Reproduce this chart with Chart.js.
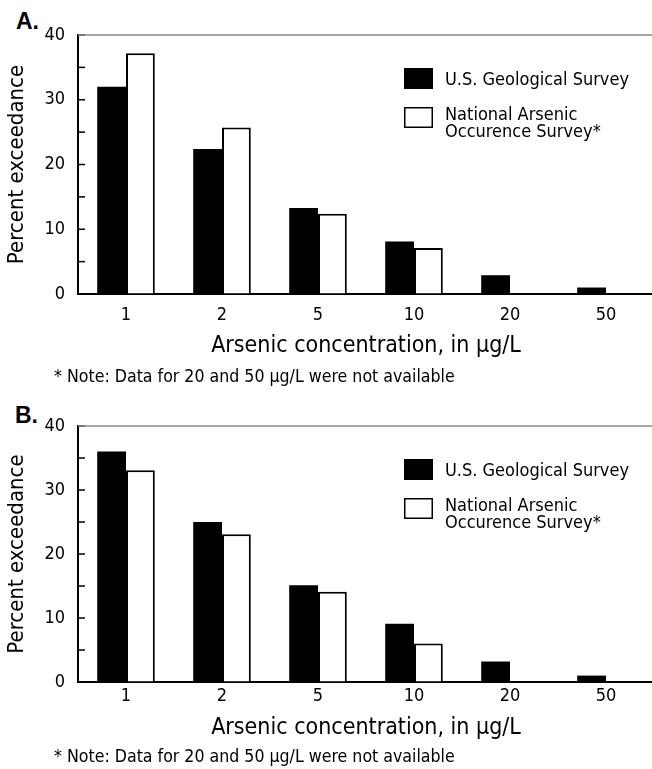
<!DOCTYPE html>
<html>
<head>
<meta charset="utf-8">
<script src="https://cdn.jsdelivr.net/npm/chart.js@4"></script>
<style>
  body { margin: 0; background: #fff; overflow: hidden; }
  #wrap { position: relative; width: 652px; height: 769px; overflow: hidden; }
  canvas { position: absolute; left: 0; }
  .panel { position: absolute; font: bold 23px 'Liberation Sans', Arial, sans-serif; }
  .note { position: absolute; left: 54px; font-size: 17.6px; white-space: nowrap; font-family: 'Liberation Sans Narrow', 'DejaVu Sans Condensed', 'Roboto Condensed', sans-serif; }
</style>
</head>
<body>
<div id="wrap">
  <div class="panel" style="left:16px;top:8px">A.</div>
  <canvas id="chartA" width="656" height="390" style="top:0"></canvas>
  <div class="note" style="top:366px">* Note: Data for 20 and 50 µg/L were not available</div>
  <div class="panel" style="left:15px;top:402px">B.</div>
  <canvas id="chartB" width="656" height="379" style="top:390px"></canvas>
  <div class="note" style="top:746px">* Note: Data for 20 and 50 µg/L were not available</div>
</div>
<script>
// values (percent exceedance)
const concentrations = ['1', '2', '5', '10', '20', '50'];
const usgsA = [32, 22.4, 13.3, 8.1, 2.9, 1.0];
const naosA = [37.2, 25.7, 12.4, 7.1, null, null];
const usgsB = [36, 25, 15.1, 9.1, 3.2, 1.0];
const naosB = [33.1, 23.1, 14.1, 6.0, null, null];
const yLabels = [0, 10, 20, 30, 40];
const seriesNames = ['U.S. Geological Survey', ['National Arsenic', 'Occurence Survey*']];

const FONT = "'Liberation Sans Narrow', 'DejaVu Sans Condensed', 'Roboto Condensed', sans-serif";

// short tick marks pointing into the plot, plus the grey top line
const frame = {
  id: 'frame',
  afterDraw(chart) {
    const { ctx, chartArea } = chart;
    const y = chart.scales.y;
    ctx.save();
    ctx.strokeStyle = '#000';
    ctx.lineWidth = 1.5;
    y.ticks.forEach(t => {
      const py = y.getPixelForValue(t.value);
      ctx.beginPath();
      ctx.moveTo(chartArea.left, py);
      ctx.lineTo(chartArea.left + 7, py);
      ctx.stroke();
    });
    ctx.strokeStyle = '#888';
    ctx.beginPath();
    ctx.moveTo(chartArea.left, chartArea.top);
    ctx.lineTo(chartArea.right, chartArea.top);
    ctx.stroke();
    ctx.restore();
  }
};

const boxLegend = {
  id: 'boxLegend',
  afterDraw(chart) {
    const { ctx, chartArea } = chart;
    const rows = [33, 72];
    chart.data.datasets.forEach((ds, i) => {
      const top = chartArea.top + rows[i];
      ctx.save();
      ctx.fillStyle = ds.backgroundColor;
      ctx.fillRect(404, top, 29, 21);
      if (ds.borderWidth) {
        ctx.strokeStyle = ds.borderColor;
        ctx.lineWidth = 1.5;
        ctx.strokeRect(404.75, top + 0.75, 27.5, 19.5);
      }
      ctx.fillStyle = '#000';
      ctx.font = '18px ' + FONT;
      ctx.textBaseline = 'middle';
      const lines = [].concat(seriesNames[i]);
      if (lines.length === 1) {
        ctx.fillText(lines[0], 445, top + 12);
      } else {
        lines.forEach((t, j) => ctx.fillText(t, 445, top + 8 + j * 17));
      }
      ctx.restore();
    });
  }
};

function makeChart(id, usgs, naos, cfg) {
  return new Chart(document.getElementById(id), {
    type: 'bar',
    data: {
      labels: concentrations,
      datasets: [
        { label: seriesNames[0], data: usgs, backgroundColor: '#000', borderWidth: 0 },
        { label: [].concat(seriesNames[1]).join(' '), data: naos, backgroundColor: '#fff', borderColor: '#000', borderWidth: 2 }
      ]
    },
    options: {
      responsive: false,
      animation: false,
      layout: { padding: { top: cfg.top, right: 2, left: 0, bottom: 0 } },
      datasets: { bar: { categoryPercentage: 0.6, barPercentage: 1.0 } },
      plugins: { legend: { display: false }, tooltip: { enabled: false } },
      scales: {
        x: {
          grid: { drawOnChartArea: false, drawTicks: false },
          border: { color: '#000', width: 2 },
          ticks: { color: '#000', font: { family: FONT, size: 18 }, padding: cfg.tickPad },
          title: { display: true, text: 'Arsenic concentration, in µg/L', color: '#000',
                   font: { family: FONT, size: 23 }, padding: { top: 0, bottom: cfg.titlePad } },
          afterFit(s) { s.height = cfg.xHeight; }
        },
        y: {
          min: 0, max: 40,
          grid: { drawOnChartArea: false, drawTicks: false },
          border: { color: '#000', width: 2 },
          ticks: {
            stepSize: 5, color: '#000', padding: 13,
            font: { family: FONT, size: 18 },
            callback: v => yLabels.includes(v) ? String(v) : ''
          },
          title: { display: true, text: 'Percent exceedance', color: '#000',
                   font: { family: FONT, size: 22 }, padding: { top: 4, bottom: 0 } },
          afterFit(s) { s.width = 78; }
        }
      }
    },
    plugins: [frame, boxLegend]
  });
}

makeChart('chartA', usgsA, naosA, { top: 35, xHeight: 96, tickPad: 11, titlePad: 30 });
makeChart('chartB', usgsB, naosB, { top: 36, xHeight: 87, tickPad: 4, titlePad: 27 });
</script>
</body>
</html>
